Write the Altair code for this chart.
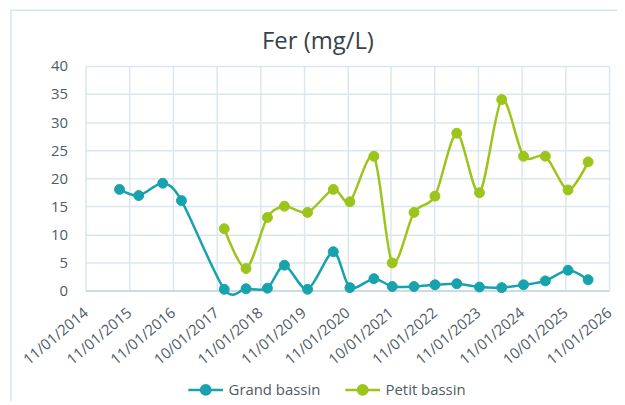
import json
import altair as alt
import pandas as pd

# ---- data ----
chart_title = "Fer (mg/L)"
x_labels = ["11/01/2014", "11/01/2015", "11/01/2016", "10/01/2017", "11/01/2018",
            "11/01/2019", "11/01/2020", "10/01/2021", "11/01/2022", "11/01/2023",
            "11/01/2024", "10/01/2025", "11/01/2026"]

# sample positions, in axis intervals counted from 11/01/2014
grand_x = [0.78, 1.22, 1.77, 2.20, 3.18, 3.68, 4.17, 4.56, 5.09, 5.68, 6.06,
           6.61, 7.03, 7.53, 8.01, 8.51, 9.03, 9.54, 10.04, 10.54, 11.06, 11.52]
grand_y = [18.0, 16.9, 19.1, 16.0, 0.2, 0.3, 0.4, 4.5, 0.2, 6.9, 0.5,
           2.1, 0.7, 0.7, 1.0, 1.2, 0.6, 0.5, 1.0, 1.7, 3.6, 1.9]

petit_x = [3.18, 3.68, 4.17, 4.56, 5.09, 5.68, 6.06, 6.61, 7.03, 7.53,
           8.01, 8.51, 9.03, 9.54, 10.04, 10.54, 11.06, 11.52]
petit_y = [11.0, 3.9, 13.0, 15.0, 13.9, 18.0, 15.8, 23.9, 4.9, 13.9,
           16.8, 28.0, 17.4, 34.0, 23.9, 23.9, 17.9, 22.9]

series_names = ["Grand bassin", "Petit bassin"]
series_colors = ["#17A3AE", "#9DC41B"]

rows = []
for xv, yv in zip(grand_x, grand_y):
    rows.append({"x": xv, "v": yv, "series": series_names[0]})
for xv, yv in zip(petit_x, petit_y):
    rows.append({"x": xv, "v": yv, "series": series_names[1]})
df = pd.DataFrame(rows)

FONT = "Open Sans"
TXT = "#4F5B65"
GRID = "#DAE7EE"

label_expr = json.dumps(x_labels).replace('"', "'") + "[datum.value]"

color_scale = alt.Scale(domain=series_names, range=series_colors)

x_enc = alt.X(
    "x:Q",
    scale=alt.Scale(domain=[0, 12], nice=False, zero=False),
    axis=alt.Axis(
        values=list(range(13)), labelExpr=label_expr, labelAngle=-40,
        labelAlign="right", labelBaseline="middle", labelPadding=20,
        labelOverlap=False, labelFlush=False, ticks=False,
        grid=True, gridColor=GRID, gridWidth=1.5,
        domainColor="#C9DCE6", domainWidth=2,
        labelFont=FONT, labelFontSize=15, labelColor=TXT, title=None,
    ),
)
y_enc = alt.Y(
    "v:Q",
    scale=alt.Scale(domain=[0, 40], nice=False),
    axis=alt.Axis(
        values=list(range(0, 41, 5)), ticks=False, domain=False,
        grid=True, gridColor=GRID, gridWidth=1.5, labelPadding=18,
        labelFont=FONT, labelFontSize=15, labelColor=TXT, title=None,
    ),
)

legend_path = "M-1,0H1M0.27,0A0.27,0.27,0,1,1,-0.27,0A0.27,0.27,0,1,1,0.27,0Z"
leg = alt.Legend(
    title=None, orient="none", legendX=102, legendY=307, direction="horizontal",
    symbolType=legend_path, symbolSize=1225, symbolStrokeWidth=2.5,
    labelFont=FONT, labelFontSize=15, labelColor=TXT, columnPadding=19,
    labelOffset=4,
)

lines = alt.Chart(df).mark_line(
    interpolate="cardinal", tension=0.15, strokeWidth=2.5
).encode(
    x=x_enc, y=y_enc,
    stroke=alt.Stroke("series:N", scale=color_scale, legend=leg),
    detail="series:N",
)
points = alt.Chart(df).mark_point(size=100, opacity=1, strokeWidth=1).encode(
    x=x_enc, y=y_enc,
    fill=alt.Fill("series:N", scale=color_scale, legend=leg),
    stroke=alt.Stroke("series:N", scale=color_scale, legend=leg),
)

frame_df = pd.DataFrame({"a": [0]})
frame_left = alt.Chart(frame_df).mark_rule(color="#D6E6EE", strokeWidth=1.5).encode(
    x=alt.value(-75), y=alt.value(-56), y2=alt.value(400)
)
frame_top = alt.Chart(frame_df).mark_rule(color="#D6E6EE", strokeWidth=1.5).encode(
    x=alt.value(-75), x2=alt.value(640), y=alt.value(-56)
)
title_mark = alt.Chart(frame_df).mark_text(
    text=chart_title, font=FONT, fontSize=24, color="#36434C",
    align="center", baseline="alphabetic",
).encode(x=alt.value(234), y=alt.value(-17))

chart = alt.layer(frame_left, frame_top, title_mark, lines, points).properties(
    width=527, height=226,
    autosize=alt.AutoSizeParams(type="none"),
    padding={"left": 78, "top": 57, "right": 8, "bottom": 110},
    background="white",
).configure_view(stroke=None)

chart.save("out.html", embed_options={"renderer": "svg", "actions": False})
